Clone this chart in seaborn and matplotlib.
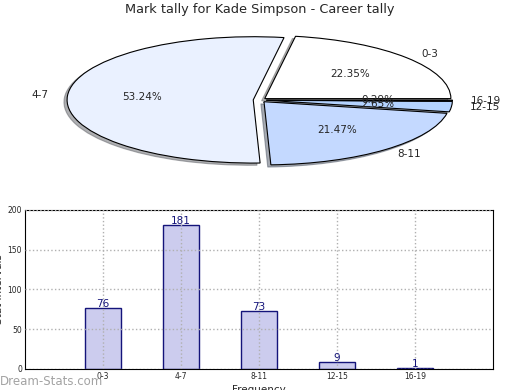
import pandas as pd
import matplotlib
matplotlib.use("Agg")
import matplotlib.pyplot as plt
import seaborn as sns

# Data
intervals = ["0-3", "4-7", "8-11", "12-15", "16-19"]
counts = [76, 181, 73, 9, 1]
pie_colors = ["#ffffff", "#eaf1ff", "#c4d9ff", "#b4d3ff", "#7fa8e8"]

df = pd.DataFrame({"Interval": intervals, "Count": counts})

sns.set_style("white")
plt.rcParams["font.family"] = ["DejaVu Sans"]

fig = plt.figure(figsize=(5.2, 3.9), dpi=100)

# Pie (stretched, not circular)
ax1 = fig.add_axes([0.052, 0.541, 0.895, 0.405])
ax1.pie(df["Count"], labels=df["Interval"], colors=pie_colors,
        autopct="%.2f%%", explode=[0.035] * len(counts),
        shadow={"ox": -0.012, "oy": -0.025, "shade": 0.6},
        startangle=0, textprops={"fontsize": 7.5},
        wedgeprops={"edgecolor": "black", "linewidth": 0.8})
ax1.set_aspect("auto")
ax1.set_xlim(-1.25, 1.25)
ax1.set_ylim(-1.25, 1.25)
ax1.set_title("Mark tally for Kade Simpson - Career tally", fontsize=9.3, pad=6)

# Bar chart
ax2 = fig.add_axes([0.048, 0.054, 0.9, 0.408])
sns.barplot(data=df, x="Interval", y="Count", color="#ccccee", width=0.46,
            edgecolor="#14147a", linewidth=1, saturation=1, ax=ax2)
for i, v in enumerate(counts):
    ax2.text(i, v - 1, str(v), ha="center", va="bottom", color="#14147a",
             fontsize=7.5)
ax2.set_xlim(-1, 5)
ax2.set_ylim(0, 200)
ax2.set_yticks([0, 50, 100, 150, 200])
ax2.tick_params(labelsize=5.5, length=3, direction="in", pad=2)
ax2.set_xlabel("Frequency", fontsize=7.5, labelpad=3)
ax2.set_ylabel("Stat Intervals", fontsize=7.5, labelpad=3)
ax2.grid(True, color="#b0b0b0", linestyle=":", linewidth=1)
ax2.set_axisbelow(False)
for s in ax2.spines.values():
    s.set_color("black")
    s.set_linewidth(0.8)

fig.text(0.0, 0.012, "Dream-Stats.com", fontsize=8.5, color="#999999",
         alpha=0.9)

plt.savefig("out.png", dpi=100)
